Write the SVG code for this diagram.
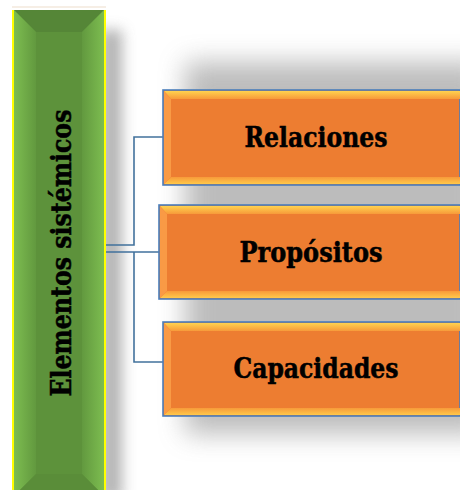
<svg xmlns="http://www.w3.org/2000/svg" width="460" height="490" viewBox="0 0 460 490">
<defs>
<filter id="blur" x="-30%" y="-30%" width="160%" height="160%"><feGaussianBlur stdDeviation="13"/></filter>
<filter id="blur2" x="-100%" y="-20%" width="300%" height="140%"><feGaussianBlur stdDeviation="7"/></filter>
<linearGradient id="gside" x1="0" y1="0" x2="1" y2="0">
<stop offset="0" stop-color="#7dbd50"/><stop offset="1" stop-color="#62993f"/>
</linearGradient>
<linearGradient id="gsideR" x1="0" y1="0" x2="1" y2="0">
<stop offset="0" stop-color="#62993f"/><stop offset="1" stop-color="#7dbd50"/>
</linearGradient>
<linearGradient id="otop" x1="0" y1="0" x2="0" y2="1">
<stop offset="0" stop-color="#ffd24f"/><stop offset="1" stop-color="#f79a3a"/>
</linearGradient>
<linearGradient id="obot" x1="0" y1="0" x2="0" y2="1">
<stop offset="0" stop-color="#f79a3a"/><stop offset="1" stop-color="#ffc84a"/>
</linearGradient>
<style>
.conn{fill:none;stroke:#41719c;stroke-width:1.6}
.obox{fill:#ed7d31;stroke:#4a7ebb;stroke-width:1.6}
.lbl{font-family:"DejaVu Serif","Liberation Serif",serif;font-weight:bold;font-size:27px;fill:#000;stroke:#000;stroke-width:0.5;text-anchor:middle}
</style>
</defs>
<rect width="460" height="490" fill="#fff"/>
<!-- shadow -->
<rect x="185" y="62" width="300" height="372" fill="#a0a0a0" opacity="0.7" filter="url(#blur)"/>
<rect x="100" y="30" width="22" height="470" fill="#a0a0a0" opacity="0.8" filter="url(#blur2)"/>
<line x1="12" y1="7" x2="106" y2="7" stroke="#f3e9dc" stroke-width="1.5"/>

<g id="node-main">
<rect x="12" y="10" width="94" height="490" fill="#ffff00"/>
<rect x="14" y="10" width="90" height="490" fill="#5d923b"/>
<polygon points="14,10 104,10 82,32 36,32" fill="#558637"/>
<polygon points="14,10 36,32 36,474 14,496" fill="url(#gside)"/>
<polygon points="104,10 82,32 82,474 104,496" fill="url(#gsideR)"/>
<polygon points="14,496 36,474 82,474 104,496" fill="#5a8d39"/>
<text transform="translate(71,253) rotate(-90)" class="lbl" font-size="24" textLength="287" lengthAdjust="spacingAndGlyphs">Elementos sistémicos</text>
</g>

<g id="connectors">
<polyline class="conn" points="106,245 134,245 134,137 163,137"/>
<polyline class="conn" points="106,252 159,252"/>
<polyline class="conn" points="134,252 134,362 163,362"/>
</g>

<g id="node-relaciones">
<rect class="obox" x="163" y="90" width="297" height="95"/>
<polygon points="164,91 460,91 460,99 171,99" fill="url(#otop)"/>
<polygon points="164,184 460,184 460,177 171,177" fill="url(#obot)"/>
<polygon points="164,91 171,99 171,177 164,184" fill="#f99a45"/>
<text x="316" y="147" class="lbl" textLength="143" lengthAdjust="spacingAndGlyphs">Relaciones</text>
</g>

<g id="node-propositos">
<rect class="obox" x="159" y="205" width="301" height="94"/>
<polygon points="160,206 460,206 460,214 167,214" fill="url(#otop)"/>
<polygon points="160,298 460,298 460,291 167,291" fill="url(#obot)"/>
<polygon points="160,206 167,214 167,291 160,298" fill="#f99a45"/>
<text x="311" y="262" class="lbl" textLength="143" lengthAdjust="spacingAndGlyphs">Propósitos</text>
</g>

<g id="node-capacidades">
<rect class="obox" x="163" y="322" width="297" height="94"/>
<polygon points="164,323 460,323 460,331 171,331" fill="url(#otop)"/>
<polygon points="164,415 460,415 460,408 171,408" fill="url(#obot)"/>
<polygon points="164,323 171,331 171,408 164,415" fill="#f99a45"/>
<text x="316" y="378" class="lbl" textLength="165" lengthAdjust="spacingAndGlyphs">Capacidades</text>
</g>
</svg>
